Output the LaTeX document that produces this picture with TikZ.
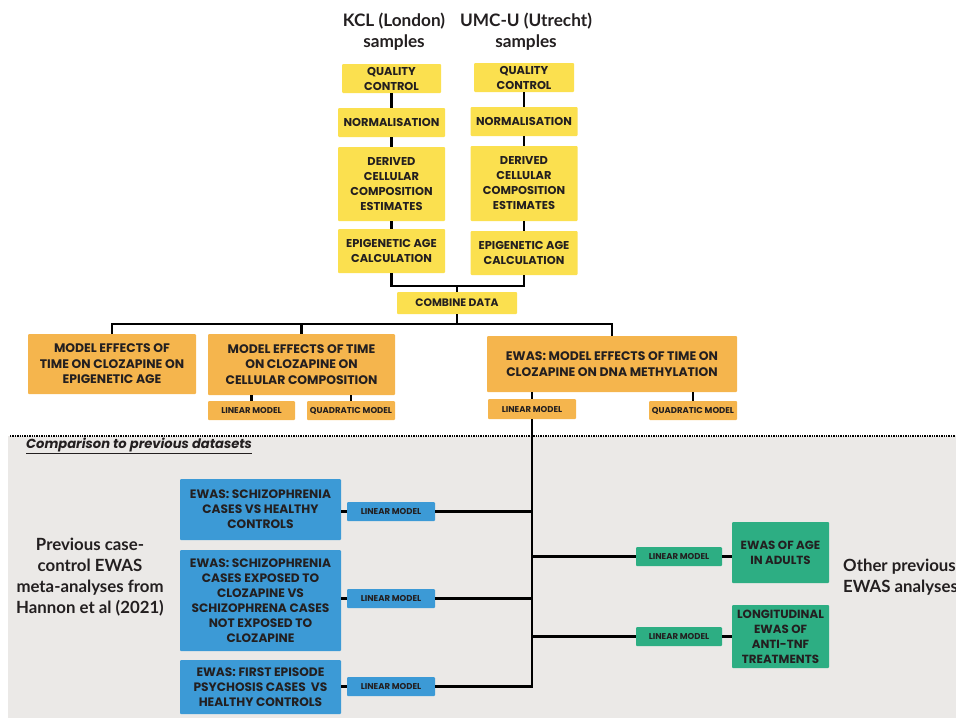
\documentclass[tikz,border=0pt]{standalone}
\usepackage{fontspec}
\setmainfont{Poppins}
\newfontfamily\headfont{Lato}
\definecolor{qcyellow}{HTML}{FBE04F}
\definecolor{modelorange}{HTML}{F5B54D}
\definecolor{scblue}{HTML}{3C9AD6}
\definecolor{othergreen}{HTML}{2DAE83}
\definecolor{prevgray}{HTML}{EBE9E7}
\definecolor{inkdark}{HTML}{231F20}
\begin{document}
\begin{tikzpicture}[x=1pt, y=-1pt,
  box/.style = {shape=rectangle, rounded corners=1pt, inner sep=0pt,
    align=center, text=inkdark, font=\bfseries\fontsize{11.4}{15}\selectfont},
  yelbox/.style = {box, fill=qcyellow},
  orbox/.style = {box, fill=modelorange, font=\bfseries\fontsize{12.4}{15.5}\selectfont},
  bluebox/.style = {box, fill=scblue, font=\bfseries\fontsize{12.2}{15}\selectfont},
  greenbox/.style = {box, fill=othergreen, font=\bfseries\fontsize{11.8}{15}\selectfont},
  lmbox/.style = {box, minimum width=88pt, minimum height=19pt,
    font=\bfseries\fontsize{8.5}{9}\selectfont},
  headtext/.style = {align=center, text=inkdark, inner sep=0pt,
    font=\headfont\bfseries\fontsize{16.8}{21}\selectfont},
  link/.style = {draw=black, line width=2.6pt}]
\useasboundingbox (0,0) rectangle (956,718);
\fill[prevgray] (8,436) rectangle (956,718);
\draw[black, line width=1.4pt, densely dotted] (10,436) -- (956,436);

\node[headtext, font=\headfont\bfseries\fontsize{17.2}{21}\selectfont] (kcl) at (394,32) {KCL (London)\\samples};
\node[headtext, font=\headfont\bfseries\fontsize{17.2}{21}\selectfont] (umc) at (526,32) {UMC-U (Utrecht)\\samples};

\node[yelbox, minimum width=99pt, minimum height=29pt] (kqc) at (391.5,78.5) {QUALITY\\CONTROL};
\node[yelbox, minimum width=107pt, minimum height=29pt] (knorm) at (391.5,122.5) {NORMALISATION};
\node[yelbox, minimum width=107pt, minimum height=74pt] (kcell) at (391.5,184) {DERIVED\\CELLULAR\\COMPOSITION\\ESTIMATES};
\node[yelbox, minimum width=107pt, minimum height=44pt] (kage) at (391.5,251) {EPIGENETIC AGE\\CALCULATION};
\node[yelbox, minimum width=100pt, minimum height=29pt] (uqc) at (524,77.5) {QUALITY\\CONTROL};
\node[yelbox, minimum width=107pt, minimum height=29pt] (unorm) at (524,121.5) {NORMALISATION};
\node[yelbox, minimum width=107pt, minimum height=75pt] (ucell) at (524,183.5) {DERIVED\\CELLULAR\\COMPOSITION\\ESTIMATES};
\node[yelbox, minimum width=107pt, minimum height=44pt] (uage) at (524,253) {EPIGENETIC AGE\\CALCULATION};
\node[yelbox, minimum width=120pt, minimum height=22pt,
  font=\bfseries\fontsize{10.8}{11}\selectfont] (combine) at (457,303) {COMBINE DATA};

\node[orbox, minimum width=168pt, minimum height=60pt] (agemodel) at (112,364) {MODEL EFFECTS OF\\TIME ON CLOZAPINE ON\\EPIGENETIC AGE};
\node[orbox, minimum width=187pt, minimum height=61pt] (cellmodel) at (301.5,364.5) {MODEL EFFECTS OF TIME\\ON CLOZAPINE ON\\CELLULAR COMPOSITION};
\node[orbox, minimum width=250pt, minimum height=56pt] (ewasmodel) at (612,364) {EWAS: MODEL EFFECTS OF TIME ON\\CLOZAPINE ON DNA METHYLATION};
\node[lmbox, fill=modelorange, minimum width=87pt] (celllin) at (251.5,410.5) {LINEAR MODEL};
\node[lmbox, fill=modelorange] (cellquad) at (351,410.5) {QUADRATIC MODEL};
\node[lmbox, fill=modelorange, minimum height=20pt] (ewaslin) at (532,409) {LINEAR MODEL};
\node[lmbox, fill=modelorange] (ewasquad) at (693,410.5) {QUADRATIC MODEL};

\node[anchor=west, inner sep=0pt, text=inkdark,
  font=\bfseries\itshape\fontsize{13.1}{15}\selectfont] (compare) at (26,446) {\underline{Comparison to previous datasets}};

\node[bluebox, minimum width=161pt, minimum height=61pt] (scz) at (260.5,509.5) {EWAS: SCHIZOPHRENIA\\CASES VS HEALTHY\\CONTROLS};
\node[bluebox, minimum width=161pt, minimum height=101pt] (sczcloz) at (260.5,600.5) {EWAS: SCHIZOPHRENIA\\CASES EXPOSED TO\\CLOZAPINE VS\\SCHIZOPHRENA CASES\\NOT EXPOSED TO\\CLOZAPINE};
\node[bluebox, minimum width=161pt, minimum height=54pt] (fep) at (260.5,687) {EWAS: FIRST EPISODE\\PSYCHOSIS CASES~~VS\\HEALTHY CONTROLS};
\node[lmbox, fill=scblue] (sczlin) at (391,511.5) {LINEAR MODEL};
\node[lmbox, fill=scblue] (sczclozlin) at (391,598.5) {LINEAR MODEL};
\node[lmbox, fill=scblue] (feplin) at (391,686.5) {LINEAR MODEL};

\node[lmbox, fill=othergreen, minimum width=86pt] (agelin) at (679,556.5) {LINEAR MODEL};
\node[lmbox, fill=othergreen, minimum width=86pt] (tnflin) at (679,636.5) {LINEAR MODEL};
\node[greenbox, minimum width=97pt, minimum height=61pt] (ageewas) at (780.5,552.5) {EWAS OF AGE\\IN ADULTS};
\node[greenbox, minimum width=97pt, minimum height=63pt] (tnfewas) at (780.5,636.5) {LONGITUDINAL\\EWAS OF\\ANTI-TNF\\TREATMENTS};

\node[headtext] (prevtext) at (90,577) {Previous case-\\control EWAS\\meta-analyses from\\Hannon et al (2021)};
\node[headtext, align=left, anchor=west] (othertext) at (843,577) {Other previous\\EWAS analyses};

\coordinate (join) at (457,286);
\coordinate (split) at (457,324);
\draw[link] (kqc) -- (knorm) -- (kcell) -- (kage);
\draw[link] (uqc) -- (unorm) -- (ucell) -- (uage);
\draw[link] (kage.south) |- (join) -| (uage.south);
\draw[link] (join) -- (combine.north);
\draw[link] (combine.south) -- (split);
\draw[link] (agemodel.north) |- (split) -| (ewasmodel.north);
\draw[link] (cellmodel.north) -- (cellmodel.north |- split);
\draw[link] (celllin.north) -- (celllin.north |- cellmodel.south);
\draw[link] (cellquad.north) -- (cellquad.north |- cellmodel.south);
\draw[link] (ewaslin.north) -- (ewaslin.north |- ewasmodel.south);
\draw[link] (ewasquad.north) -- (ewasquad.north |- ewasmodel.south);
\draw[link] (ewaslin.south) |- (feplin.east);
\draw[link] (sczlin.east) -- (sczlin.east -| ewaslin.south);
\draw[link] (sczclozlin.east) -- (sczclozlin.east -| ewaslin.south);
\draw[link] (agelin.west) -- (agelin.west -| ewaslin.south);
\draw[link] (tnflin.west) -- (tnflin.west -| ewaslin.south);
\draw[link] (scz.east |- sczlin) -- (sczlin.west);
\draw[link] (sczcloz.east |- sczclozlin) -- (sczclozlin.west);
\draw[link] (fep.east |- feplin) -- (feplin.west);
\draw[link] (agelin.east) -- (agelin.east -| ageewas.west);
\draw[link] (tnflin.east) -- (tnflin.east -| tnfewas.west);
\end{tikzpicture}
\end{document}
